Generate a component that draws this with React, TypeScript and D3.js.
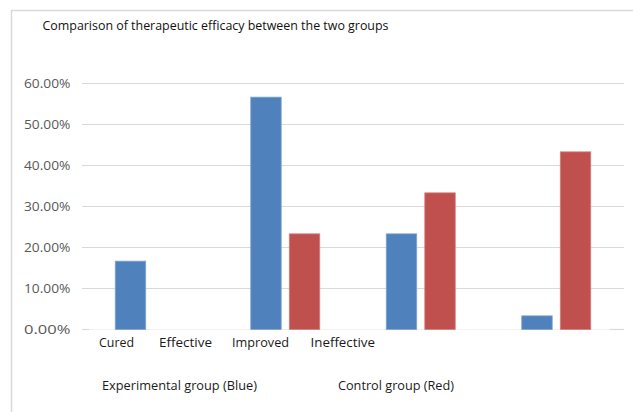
import React from "react";
import * as d3 from "d3";

const title = "Comparison of therapeutic efficacy between the two groups";
const groups = ["G1", "G2", "G3", "G4"];
const seriesNames = ["Experimental", "Control"];
const experimental = [0.1667, 0.5667, 0.2333, 0.0333];
const control = [0, 0.2333, 0.3333, 0.4333];
const categoryLabels = ["Cured", "Effective", "Improved", "Ineffective"];
const legendLabels = ["Experimental group (Blue)", "Control group (Red)"];
const yTicks = [0, 0.1, 0.2, 0.3, 0.4, 0.5, 0.6];
const colors = ["#4F81BD", "#C0504D"];

const W = 633;
const H = 412;
const plot = { left: 82, right: 624, top: 83.5, bottom: 329.5 };
const font = "'Open Sans', Lato, sans-serif";
// layout of the free-floating category label line (text box in the original)
const labelX = [99, 159, 232, 310.5];
const labelW = [35, 53, 57, 64.5];

export default function App() {
  const x0 = d3.scaleBand<string>().domain(groups).range([plot.left, plot.right]);
  const x1 = d3
    .scaleBand<string>()
    .domain(seriesNames)
    .range([33.25, 102.25])
    .paddingInner(0.21);
  const y = d3.scaleLinear().domain([0, 0.6]).range([plot.bottom, plot.top]);
  const fmt = d3.format(".2%");
  const values = [experimental, control];

  return (
    <svg
      width={W}
      height={H}
      style={{ position: "absolute", left: 0, top: 0, background: "#fff" }}
      fontFamily={font}
    >
      <rect x={0} y={0} width={W} height={H} fill="#fff" />
      {/* frame */}
      <line x1={11} x2={633} y1={10.5} y2={10.5} stroke="#d9d9d9" strokeWidth={1.5} />
      <line x1={11.5} x2={11.5} y1={10} y2={412} stroke="#d9d9d9" strokeWidth={1.5} />

      <text x={42.5} y={30} fontSize={12} fill="#111" textLength={346} lengthAdjust="spacingAndGlyphs">
        {title}
      </text>

      {/* gridlines */}
      {yTicks.map((t) =>
        t === 0 ? null : (
          <line
            key={t}
            x1={plot.left}
            x2={plot.right}
            y1={y(t)}
            y2={y(t)}
            stroke="#d9d9d9"
            strokeWidth={1.2}
          />
        )
      )}
      {/* baseline */}
      <line x1={plot.left} x2={plot.right} y1={y(0)} y2={y(0)} stroke="#f2f2f2" strokeWidth={1.2} />
      <line x1={plot.left} x2={plot.left + 7} y1={y(0)} y2={y(0)} stroke="#d9d9d9" strokeWidth={1.2} />
      <line x1={plot.right - 14} x2={plot.right} y1={y(0)} y2={y(0)} stroke="#d9d9d9" strokeWidth={1.2} />

      {/* y tick labels */}
      {yTicks.map((t) => (
        <text
          key={"l" + t}
          x={70.5}
          y={y(t)}
          dy="0.35em"
          textAnchor="end"
          fontSize={13}
          fill="#595959"
          textLength={46.5}
          lengthAdjust="spacingAndGlyphs"
        >
          {fmt(t)}
        </text>
      ))}

      {/* bars */}
      {groups.map((g, gi) =>
        seriesNames.map((s, si) => {
          const v = values[si][gi];
          if (v <= 0) return null;
          const bx = (x0(g) as number) + (x1(s) as number);
          return (
            <rect
              key={g + s}
              x={bx}
              y={y(v)}
              width={x1.bandwidth()}
              height={y(0) - y(v)}
              fill={colors[si]}
              stroke={si === 0 ? "#7ea3d3" : "#d47f7d"}
              strokeWidth={0.8}
            />
          );
        })
      )}

      {/* category labels */}
      {categoryLabels.map((c, i) => (
        <text
          key={c}
          x={labelX[i]}
          y={347}
          fontSize={12}
          fill="#1a1a1a"
          textLength={labelW[i]}
          lengthAdjust="spacingAndGlyphs"
        >
          {c}
        </text>
      ))}

      {/* bottom labels */}
      <text x={102} y={390} fontSize={12} fill="#1a1a1a" textLength={155} lengthAdjust="spacingAndGlyphs">
        {legendLabels[0]}
      </text>
      <text x={338} y={390} fontSize={12} fill="#1a1a1a" textLength={116} lengthAdjust="spacingAndGlyphs">
        {legendLabels[1]}
      </text>
    </svg>
  );
}
